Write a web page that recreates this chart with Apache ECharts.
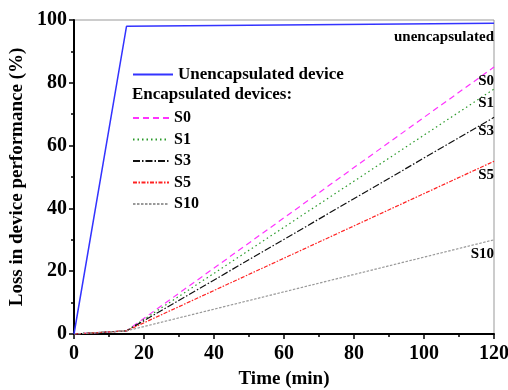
<!DOCTYPE html>
<html><head><meta charset="utf-8">
<script src="https://cdn.jsdelivr.net/npm/echarts@6/dist/echarts.min.js"></script>
<style>html,body{margin:0;padding:0;background:#fff}#c{width:508px;height:390px}</style>
</head><body><div id="c"></div>
<script>
const timeUnenc = [0, 15, 120];
const unencapsulated = [0, 98, 99];
const timeEnc = [0, 15, 120];
const S0 = [0, 1, 85];
const S1 = [0, 1, 78];
const S3 = [0, 1, 69];
const S5 = [0, 1, 55];
const S10 = [0, 1, 30];
const xTicks = [0, 20, 40, 60, 80, 100, 120];
const yTicks = [0, 20, 40, 60, 80, 100];

const FONT = 'Liberation Serif';
const pair = (xs, ys) => xs.map((x, i) => [x, ys[i]]);
const endLbl = (txt) => ({
  show: true, formatter: txt, align: 'right', verticalAlign: 'middle',
  offset: [0, 14], distance: 0,
  fontFamily: FONT, fontWeight: 'bold', fontSize: 15, color: '#000'
});
function encSeries(name, data, color, type) {
  return {
    name, type: 'line', data: pair(timeEnc, data), symbol: 'none', silent: true,
    lineStyle: { color, width: 1.2, type }, itemStyle: { color },
    endLabel: endLbl(name), z: 3
  };
}
const chart = echarts.init(document.getElementById('c'));
chart.setOption({
  animation: false,
  backgroundColor: '#fff',
  grid: { left: 74, right: 14, top: 20, bottom: 56, show: true, borderColor: '#999', borderWidth: 1,
    containLabel: false, outerBoundsMode: 'none' },
  xAxis: {
    type: 'value', min: 0, max: 120, interval: 20,
    name: 'Time (min)', nameLocation: 'middle', nameGap: 36,
    nameTextStyle: { fontFamily: FONT, fontWeight: 'bold', fontSize: 19, color: '#000' },
    axisLine: { onZero: false, lineStyle: { color: '#000', width: 2 } },
    axisTick: { show: true, inside: false, length: 5, lineStyle: { color: '#000', width: 1.5 } },
    minorTick: { show: true, splitNumber: 2, length: 3, lineStyle: { color: '#000', width: 1.5 } },
    splitLine: { show: false },
    axisLabel: { fontFamily: FONT, fontWeight: 'bold', fontSize: 20, color: '#000', margin: 10,
      formatter: v => xTicks.includes(v) ? String(v) : '' }
  },
  yAxis: {
    type: 'value', min: 0, max: 100, interval: 20,
    name: 'Loss in device performance (%)', nameLocation: 'middle', nameGap: 44,
    nameTextStyle: { fontFamily: FONT, fontWeight: 'bold', fontSize: 19, color: '#000' },
    axisLine: { show: true, onZero: false, lineStyle: { color: '#000', width: 2 } },
    axisTick: { show: true, inside: false, length: 5, lineStyle: { color: '#000', width: 1.5 } },
    minorTick: { show: true, splitNumber: 2, length: 3, lineStyle: { color: '#000', width: 1.5 } },
    splitLine: { show: false },
    axisLabel: { fontFamily: FONT, fontWeight: 'bold', fontSize: 20, color: '#000', margin: 7,
      formatter: v => yTicks.includes(v) ? String(v) : '' }
  },
  legend: [
    { data: ['Unencapsulated device'], left: 127, top: 61, itemWidth: 40, itemHeight: 14,
      itemStyle: { opacity: 0 },
      textStyle: { fontFamily: FONT, fontWeight: 'bold', fontSize: 17, color: '#000' } },
    { data: ['S0', 'S1', 'S3', 'S5', 'S10'], orient: 'vertical', left: 127, top: 105,
      itemWidth: 36, itemHeight: 14, itemGap: 5.5, itemStyle: { opacity: 0 },
      textStyle: { fontFamily: FONT, fontWeight: 'bold', fontSize: 16, color: '#000' } }
  ],
  graphic: [{
    type: 'text', left: 132, top: 86,
    style: { text: 'Encapsulated devices:', font: 'bold 17px "Liberation Serif"', fill: '#000' }
  }],
  series: [
    { name: 'Unencapsulated device', type: 'line', data: pair(timeUnenc, unencapsulated),
      symbol: 'none', silent: true, lineStyle: { color: '#3333ff', width: 1.5 }, itemStyle: { color: '#3333ff' },
      endLabel: endLbl('unencapsulated'), z: 4 },
    encSeries('S0', S0, '#ff33ff', [6, 4]),
    encSeries('S1', S1, '#2a9a2a', [1.5, 3]),
    encSeries('S3', S3, '#111', [7, 2, 1.5, 2]),
    encSeries('S5', S5, '#ff2222', [4, 1.5, 1.5, 1.5]),
    encSeries('S10', S10, '#999', [2.5, 1.5])
  ]
});
</script></body></html>
